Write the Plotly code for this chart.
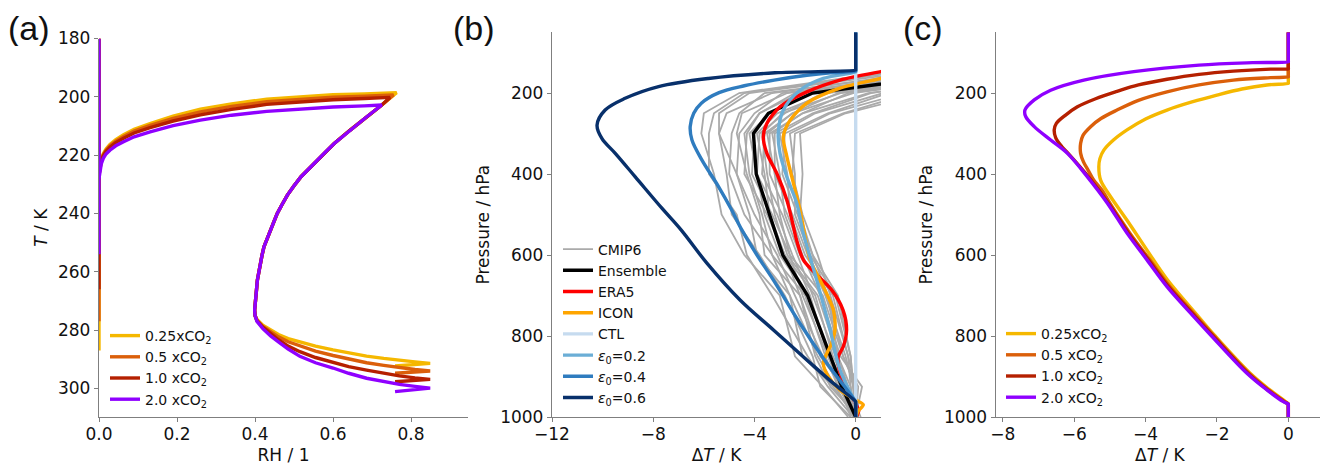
import plotly.graph_objects as go

FONT = "DejaVu Sans"

# ---------------- Panel (a): RH vs T ----------------
CO2_LABELS = ["0.25xCO<sub>2</sub>", "0.5 xCO<sub>2</sub>", "1.0 xCO<sub>2</sub>", "2.0 xCO<sub>2</sub>"]
CO2_COLORS = ["#f5b800", "#db5f0a", "#b52000", "#8f00ff"]

A_AXIS_TOP_T = 180
A_AXIS_END_T = [287, 277, 266, 254]

A_UPPER_RH = [0.0, 0.003, 0.006, 0.011, 0.018, 0.028, 0.043, 0.063, 0.09, 0.131, 0.19, 0.26, 0.34, 0.43, 0.52, 0.6, 0.68]
A_UPPER_T = [
    [226.0, 223.5, 221.3, 219.5, 217.9, 216.3, 214.7, 213.0, 211.1, 209.2, 206.6, 204.2, 202.4, 200.8, 199.9, 199.3, 199.0],
    [226.5, 223.8, 221.6, 219.9, 218.3, 216.8, 215.2, 213.6, 211.7, 209.8, 207.4, 205.2, 203.3, 201.7, 200.8, 200.1, 199.8],
    [227.0, 224.2, 222.0, 220.2, 218.7, 217.3, 215.7, 214.2, 212.4, 210.6, 208.3, 206.2, 204.3, 202.6, 201.7, 201.0, 200.6],
    [228.0, 225.0, 222.9, 221.1, 219.6, 218.3, 216.8, 215.4, 213.7, 212.0, 209.9, 208.0, 206.3, 205.0, 204.1, 203.5, 203.1],
]
A_PEAK_RH = [0.763, 0.755, 0.746, 0.725]
A_PEAK_T = [198.6, 199.4, 200.2, 202.8]

A_MID_RH = [0.725, 0.685, 0.644, 0.603, 0.58, 0.56, 0.538, 0.518, 0.50, 0.483, 0.469, 0.457, 0.448, 0.44,
            0.431, 0.423, 0.418, 0.415, 0.41, 0.406, 0.404, 0.402, 0.40, 0.399, 0.40]
A_MID_T = [202.8, 207.0, 211.4, 216.0, 219.0, 221.7, 224.5, 227.4, 230.5, 233.7, 237.0, 240.0, 243.0, 245.7,
           248.5, 251.4, 254.3, 257.1, 260.0, 262.9, 265.8, 268.6, 271.0, 273.1, 275.0]

A_LOW_RH = [0.405, 0.42, 0.44, 0.46, 0.485, 0.515, 0.555, 0.60, 0.64, 0.686, 0.73, 0.77, 0.81, 0.849, 0.759]
A_LOW_T = [
    [276.4, 278.3, 280.0, 281.5, 282.9, 284.0, 285.5, 286.8, 287.9, 288.9, 289.7, 290.4, 290.9, 291.4, 292.3],
    [276.6, 278.7, 280.6, 282.3, 284.0, 285.4, 287.2, 288.7, 290.0, 291.2, 292.1, 292.9, 293.5, 294.0, 294.8],
    [276.8, 279.0, 281.3, 283.3, 285.5, 287.4, 289.4, 291.0, 292.5, 293.7, 294.8, 295.7, 296.4, 296.9, 297.7],
    [277.0, 279.5, 282.0, 284.0, 286.5, 289.0, 291.2, 293.0, 294.8, 296.5, 297.7, 298.6, 299.3, 299.9, 301.1],
]

A_XTICKS = [0.0, 0.2, 0.4, 0.6, 0.8]
A_XTICKTEXT = ["0.0", "0.2", "0.4", "0.6", "0.8"]
A_YTICKS = [180, 200, 220, 240, 260, 280, 300]

# ---------------- Panel (b): temperature change profiles ----------------
P_LEV = [150, 200, 250, 300, 400, 500, 600, 700, 850, 925, 1000]
CMIP6 = [
    [1.0, -4.6, -6.0, -6.1, -5.6, -5.3, -4.4, -3.0, -2.4, -1.3, -0.3],
    [1.5, -4.4, -5.6, -5.8, -5.8, -4.7, -4.3, -3.3, -1.9, -1.1, -0.1],
    [2.0, -4.2, -5.4, -5.4, -5.1, -4.9, -3.8, -2.8, -1.7, -1.4, -0.2],
    [2.5, -3.3, -5.1, -5.4, -4.7, -4.2, -3.9, -2.6, -2.1, -0.9, 0.0],
    [3.0, -3.6, -4.6, -4.9, -5.0, -4.4, -3.3, -2.6, -1.5, -0.8, -0.1],
    [3.5, -2.7, -4.5, -4.7, -4.3, -3.8, -3.6, -2.2, -1.6, -1.0, 0.1],
    [3.5, -2.9, -4.0, -4.6, -4.7, -4.0, -3.1, -2.4, -1.3, -0.6, -0.2],
    [4.0, -2.2, -3.8, -4.4, -4.2, -3.7, -3.3, -2.0, -1.2, -0.7, 0.0],
    [4.0, -2.4, -3.8, -4.3, -4.4, -3.5, -2.8, -2.2, -1.4, -0.5, 0.1],
    [4.5, -1.7, -3.4, -4.2, -3.9, -3.6, -3.0, -1.9, -1.0, -0.4, -0.1],
    [4.5, -1.8, -3.4, -4.0, -4.1, -3.3, -2.6, -2.1, -1.1, -0.6, 0.0],
    [5.0, -1.1, -3.1, -3.9, -3.6, -3.4, -2.8, -1.6, -0.9, -0.3, 0.2],
    [5.0, -1.3, -2.8, -3.8, -3.9, -3.1, -2.5, -1.8, -1.1, -0.5, -0.1],
    [5.5, -0.6, -2.9, -3.7, -3.5, -3.2, -2.7, -1.5, -0.7, -0.2, 0.0],
    [5.5, -0.7, -2.5, -3.6, -3.7, -2.9, -2.3, -1.7, -0.8, -0.4, 0.1],
    [6.0, -0.1, -2.5, -3.5, -3.2, -3.0, -2.6, -1.3, -0.5, 0.0, 0.0],
    [6.0, -0.3, -2.1, -3.4, -3.4, -2.7, -2.1, -1.4, -0.6, 0.25, 0.0],
    [6.5, 0.5, -2.1, -3.3, -3.0, -2.8, -2.2, -1.1, -0.7, -0.3, 0.1],
    [6.5, 0.6, -1.7, -3.2, -3.2, -2.5, -1.9, -1.2, -0.4, -0.1, 0.0],
    [7.0, 1.1, -1.6, -3.0, -2.7, -2.6, -2.0, -0.9, -0.3, -0.2, -0.1],
    [7.0, 1.3, -1.1, -2.8, -2.9, -2.3, -1.7, -1.1, -0.5, 0.1, 0.0],
    [7.5, 1.9, -1.0, -2.6, -2.4, -2.4, -1.8, -0.8, -0.2, -0.1, 0.1],
    [8.0, 2.2, -0.5, -2.4, -2.5, -2.1, -1.5, -1.0, -0.3, 0.0, 0.0],
    [8.0, 2.8, -0.4, -2.2, -2.1, -2.2, -1.7, -0.7, -0.2, -0.1, 0.0],
]
ENSEMBLE = [4.4, -1.7, -3.45, -4.04, -3.93, -3.4, -2.88, -1.9, -1.02, -0.55, 0.0]

ERA5_DT = [1.6, 1.0, -0.62, -1.93, -2.99, -3.51, -3.65, -3.51, -3.12, -2.72, -2.46, -2.35, -2.07, -1.6, -0.95, -0.5, -0.36, -0.49, -0.69, -0.65, -0.38, 0.0, 0.12, 0.02]
ERA5_P = [140, 147, 168, 197, 234, 275, 308, 349, 398, 464, 530, 560, 612, 645, 686, 736, 785, 826, 851, 884, 925, 967, 985, 1000]

ICON_DT = [1.6, 1.0, -0.62, -1.93, -2.59, -2.86, -2.72, -2.46, -2.2, -2.0, -1.8, -1.28, -0.88, -0.82, -0.95, -1.14, -1.28, -1.08, -0.62, 0.0, 0.3, 0.1, 0.0]
ICON_P = [155, 164, 188, 225, 267, 308, 357, 423, 489, 555, 612, 678, 736, 785, 818, 843, 867, 900, 933, 958, 970, 985, 1000]

CTL_DT = [0.0, 0.0]
CTL_P = [50, 1000]

EPS02_DT = [0.0, 0.0, 0.0, -1.28, -2.2, -2.86, -3.06, -2.99, -2.72, -2.33, -2.07, -1.54, -1.01, -0.62, 0.0, 0.0, 0.0]
EPS02_P = [50, 147, 148, 164, 193, 242, 300, 349, 407, 472, 546, 662, 785, 884, 967, 968, 1000]

EPS04_DT = [0.0, 0.0, 0.0, -1.0, -1.93, -3.22, -4.4, -5.4, -6.1, -6.4, -6.54, -6.47, -6.08, -5.42, -4.9, -4.5, -3.9, -3.25, -2.2, -1.14, 0.0, 0.0, 0.0]
EPS04_P = [50, 145, 146, 150, 156, 168, 182, 199, 225, 250, 283, 316, 365, 431, 489, 538, 600, 662, 769, 867, 962, 963, 1000]

EPS06_DT = [0.0, 0.0, 0.0, -3.19, -5.82, -7.79, -9.11, -9.9, -10.22, -10.03, -9.5, -8.71, -7.65, -6.9, -5.88, -4.57, -3.25, -1.93, -0.88, 0.0, 0.0, 0.0]
EPS06_P = [50, 142, 143, 150, 164, 184, 213, 242, 279, 312, 349, 407, 485, 538, 620, 711, 785, 859, 917, 962, 963, 1000]

B_NAMES = ["CMIP6", "Ensemble", "ERA5", "ICON", "CTL",
           "<i>ε</i><sub>0</sub>=0.2", "<i>ε</i><sub>0</sub>=0.4", "<i>ε</i><sub>0</sub>=0.6"]
B_COLORS = ["#aaaaaa", "#000000", "#ff0000", "#ffa500", "#c6dbef", "#6baed6", "#2f7cbf", "#08306b"]

B_XTICKS = [-12, -8, -4, 0]
P_TICKS = [200, 400, 600, 800, 1000]

# ---------------- Panel (c): temperature change for CO2 cases ----------------
C_DT = [
    [0.0, 0.0, 0.0, -0.6, -1.3, -2.0, -2.7, -3.4, -4.0, -4.52, -4.9, -5.17, -5.28, -5.31, -5.26, -4.98, -4.52, -3.96, -3.4, -2.52, -2.05, -1.07, -0.52, -0.08, 0.0, 0.0, 0.0],
    [0.0, 0.0, 0.0, -0.5, -1.54, -2.5, -3.4, -4.2, -4.8, -5.25, -5.54, -5.75, -5.82, -5.82, -5.74, -5.6, -5.45, -5.22, -5.0, -4.44, -3.88, -3.32, -2.57, -2.08, -1.1, -0.55, -0.1, 0.0, 0.0, 0.0],
    [0.0, 0.0, 0.0, -0.5, -1.54, -2.5, -3.4, -4.2, -4.8, -5.4, -5.91, -6.25, -6.5, -6.56, -6.52, -6.35, -6.17, -5.6, -5.04, -4.48, -3.92, -3.36, -2.61, -2.11, -1.13, -0.58, -0.12, 0.0, 0.0, 0.0],
    [0.0, 0.0, 0.0, -1.0, -2.5, -4.33, -5.73, -6.66, -7.12, -7.38, -7.36, -7.12, -6.66, -6.19, -5.63, -5.07, -4.52, -3.96, -3.4, -2.65, -2.15, -1.16, -0.6, -0.14, 0.0, 0.0, 0.0],
]
C_P = [
    [50, 175, 176, 180, 190, 205, 222, 242, 264, 291, 316, 341, 362, 382, 415, 456, 514, 588, 660, 752, 800, 892, 933, 962, 968, 969, 1000],
    [50, 159, 160, 162, 168, 180, 197, 218, 242, 263, 283, 304, 324, 349, 370, 392, 415, 440, 472, 546, 612, 678, 752, 800, 892, 933, 962, 968, 969, 1000],
    [50, 139, 140, 141, 146, 154, 166, 180, 196, 214, 234, 255, 275, 291, 310, 332, 349, 407, 472, 546, 612, 678, 752, 800, 892, 933, 962, 968, 969, 1000],
    [50, 122, 123, 125, 131, 147, 168, 193, 217, 242, 258, 283, 316, 349, 407, 472, 546, 612, 678, 752, 800, 892, 933, 962, 968, 969, 1000],
]
C_XTICKS = [-8, -6, -4, -2, 0]

LW = 3.4
fig = go.Figure()

# Panel (a)
for i in range(4):
    xs = [0.0, 0.0, None] + A_UPPER_RH + [A_PEAK_RH[i]] + A_MID_RH + A_LOW_RH
    ys = [A_AXIS_TOP_T, A_AXIS_END_T[i], None] + A_UPPER_T[i] + [A_PEAK_T[i]] + A_MID_T + A_LOW_T[i]
    fig.add_trace(go.Scatter(x=xs, y=ys, mode="lines", name=CO2_LABELS[i],
                             line=dict(color=CO2_COLORS[i], width=LW),
                             xaxis="x", yaxis="y", legend="legend"))

# Panel (b)
for j, row in enumerate(CMIP6):
    fig.add_trace(go.Scatter(x=row, y=P_LEV, mode="lines", name=B_NAMES[0],
                             line=dict(color=B_COLORS[0], width=1.8),
                             legendgroup="cmip", showlegend=(j == 0),
                             xaxis="x2", yaxis="y2", legend="legend2"))
fig.add_trace(go.Scatter(x=ENSEMBLE, y=P_LEV, mode="lines", name=B_NAMES[1],
                         line=dict(color=B_COLORS[1], width=LW),
                         xaxis="x2", yaxis="y2", legend="legend2"))
for name, col, xs, ys, sm in [(B_NAMES[2], B_COLORS[2], ERA5_DT, ERA5_P, 0.8),
                              (B_NAMES[3], B_COLORS[3], ICON_DT, ICON_P, 0.8),
                              (B_NAMES[4], B_COLORS[4], CTL_DT, CTL_P, 0.8),
                              (B_NAMES[5], B_COLORS[5], EPS02_DT, EPS02_P, 1.0),
                              (B_NAMES[6], B_COLORS[6], EPS04_DT, EPS04_P, 1.0),
                              (B_NAMES[7], B_COLORS[7], EPS06_DT, EPS06_P, 1.0)]:
    fig.add_trace(go.Scatter(x=xs, y=ys, mode="lines", name=name,
                             line=dict(color=col, width=LW, shape="spline", smoothing=sm),
                             xaxis="x2", yaxis="y2", legend="legend2"))

# Panel (c)
for i in range(4):
    fig.add_trace(go.Scatter(x=C_DT[i], y=C_P[i], mode="lines", name=CO2_LABELS[i],
                             line=dict(color=CO2_COLORS[i], width=LW, shape="spline", smoothing=1.0),
                             xaxis="x3", yaxis="y3", legend="legend3"))

# The page body has an 8 px margin, so the figure sits at (8, 8) in the window.
OFF = 8
W, H = 1328 - OFF, 466 - OFF
def px_x(v):
    return (v - OFF) / W
def px_y(v):
    return 1 - (v - OFF) / H

axis_common = dict(showline=True, linecolor="#7f7f7f", linewidth=1.3, ticks="outside",
                   ticklen=4, tickwidth=1.2, tickcolor="#7f7f7f", showgrid=False,
                   zeroline=False, mirror=False, automargin=False,
                   tickfont=dict(family=FONT, size=17, color="#111111"))
xaxis_extra = dict(ticklabelstandoff=-3)
title_font = dict(family=FONT, size=17, color="#111111")

y_bot = px_y(417)
leg_font = dict(family=FONT, size=14, color="#111111")
fig.update_layout(
    width=W, height=H, margin=dict(l=0, r=0, t=0, b=0, autoexpand=False),
    paper_bgcolor="white", plot_bgcolor="white",
    font=dict(family=FONT, size=14, color="#111111"),
    xaxis=dict(domain=[px_x(99), px_x(468)], range=[0, 0.946], tickvals=A_XTICKS,
               ticktext=A_XTICKTEXT, anchor="y",
               title=dict(text="RH / 1", font=title_font, standoff=6), **axis_common, **xaxis_extra),
    yaxis=dict(domain=[y_bot, px_y(38.5)], range=[309.8, 180], tickvals=A_YTICKS, anchor="x",
               title=dict(text="<i>T</i> / K", font=title_font, standoff=6), **axis_common),
    xaxis2=dict(domain=[px_x(552), px_x(881)], range=[-12, 1], tickvals=B_XTICKS, anchor="y2",
                title=dict(text="Δ<i>T</i> / K", font=title_font, standoff=6), **axis_common, **xaxis_extra),
    yaxis2=dict(domain=[y_bot, px_y(32.3)], range=[1000, 50], tickvals=P_TICKS, anchor="x2",
                title=dict(text="Pressure / hPa", font=title_font, standoff=6), **axis_common),
    xaxis3=dict(domain=[px_x(995.7), px_x(1324)], range=[-8.2, 1.0], tickvals=C_XTICKS, anchor="y3",
                title=dict(text="Δ<i>T</i> / K", font=title_font, standoff=6), **axis_common, **xaxis_extra),
    yaxis3=dict(domain=[y_bot, px_y(32.3)], range=[1000, 50], tickvals=P_TICKS, anchor="x3",
                title=dict(text="Pressure / hPa", font=title_font, standoff=6), **axis_common),
    legend=dict(x=px_x(105), y=px_y(320), xanchor="left", yanchor="top", bgcolor="rgba(0,0,0,0)",
                font=leg_font, itemwidth=30, tracegroupgap=0),
    legend2=dict(x=px_x(558), y=px_y(233.5), xanchor="left", yanchor="top", bgcolor="rgba(0,0,0,0)",
                 font=leg_font, itemwidth=30, tracegroupgap=0),
    legend3=dict(x=px_x(1001), y=px_y(318), xanchor="left", yanchor="top", bgcolor="rgba(0,0,0,0)",
                 font=leg_font, itemwidth=30, tracegroupgap=0),
    showlegend=True,
)

for lab, xp in [("(a)", 6), ("(b)", 451), ("(c)", 901)]:
    fig.add_annotation(text=lab, x=px_x(xp), y=1.0, xref="paper", yref="paper",
                       xanchor="left", yanchor="top", height=36, valign="middle", showarrow=False,
                       font=dict(family="Liberation Sans", size=34, color="#111111"))

fig.write_html("out.html")
